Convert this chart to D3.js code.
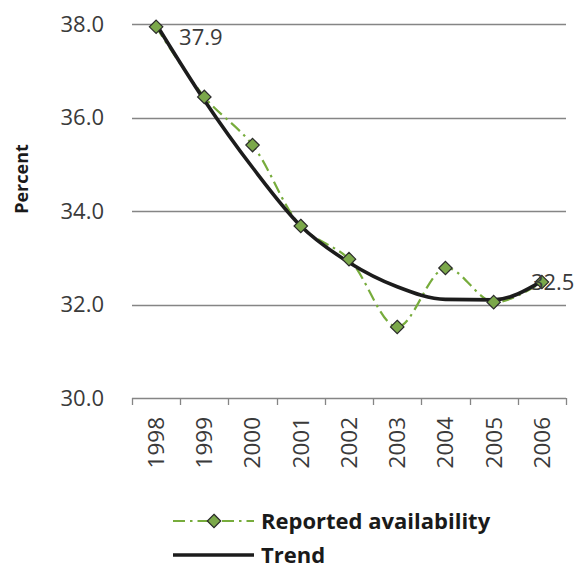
<!DOCTYPE html>
<html>
<head>
<meta charset="utf-8">
<script src="https://cdn.jsdelivr.net/npm/d3@7"></script>
<style>
  body { margin: 0; background: #fff; }
  svg text { font-family: "Open Sans", "Noto Sans", sans-serif; }
</style>
</head>
<body>
<svg id="chart" width="574" height="568"></svg>
<script>
// chart data
const years = ["1998", "1999", "2000", "2001", "2002", "2003", "2004", "2005", "2006"];
const reported = [37.94, 36.44, 35.41, 33.68, 32.97, 31.52, 32.78, 32.05, 32.48];
const trend = [38.0, 36.37, 34.93, 33.68, 32.9, 32.38, 32.11, 32.1, 32.5];
const yTicks = [30, 32, 34, 36, 38];
const pointLabels = [{ i: 0, text: "37.9" }, { i: 8, text: "32.5" }];

const svg = d3.select("#chart");

const x = d3.scaleBand()
    .domain(years)
    .range([132, 566]);

const y = d3.scaleLinear()
    .domain([30, 38])
    .range([398, 24]);

const cx = d => x(d) + x.bandwidth() / 2;

// gridlines
svg.append("g")
    .selectAll("line")
    .data(yTicks.filter(t => t > 30))
    .join("line")
    .attr("x1", 132)
    .attr("x2", 566)
    .attr("y1", d => Math.round(y(d)) + 0.5)
    .attr("y2", d => Math.round(y(d)) + 0.5)
    .attr("stroke", "#858585")
    .attr("stroke-width", 1.3);

// y tick labels
svg.append("g")
    .attr("fill", "#3a3a3a")
    .attr("font-size", 22)
    .attr("text-anchor", "end")
    .selectAll("text")
    .data(yTicks)
    .join("text")
    .attr("x", 104)
    .attr("y", d => y(d))
    .attr("dy", "0.35em")
    .text(d => d.toFixed(1));

// x axis
const xAxis = g => g
    .attr("transform", "translate(0," + (Math.round(y(30)) + 0.5) + ")")
    .call(d3.axisBottom(x).tickSize(0).tickFormat(""))
    .call(g => g.select(".domain").attr("stroke", "#858585").attr("stroke-width", 1.3)
        .attr("d", "M132,0H566"));

svg.append("g").call(xAxis);

// tick marks between categories
svg.append("g")
    .selectAll("line")
    .data(years.concat(["end"]))
    .join("line")
    .attr("x1", (d, i) => Math.round(i < years.length ? x(d) : x.range()[1]) + 0.5)
    .attr("x2", (d, i) => Math.round(i < years.length ? x(d) : x.range()[1]) + 0.5)
    .attr("y1", y(30))
    .attr("y2", y(30) + 7)
    .attr("stroke", "#858585")
    .attr("stroke-width", 1.3);

// rotated year labels
svg.append("g")
    .attr("fill", "#3a3a3a")
    .attr("font-size", 22.5)
    .attr("text-anchor", "end")
    .selectAll("text")
    .data(years)
    .join("text")
    .attr("transform", d => "translate(" + cx(d) + ",417) rotate(-90)")
    .attr("dy", "0.35em")
    .text(d => d);

// y axis title
svg.append("text")
    .attr("transform", "translate(22,179) rotate(-90)")
    .attr("text-anchor", "middle")
    .attr("dy", "0.35em")
    .attr("font-size", 18)
    .attr("font-weight", "bold")
    .attr("fill", "#1a1a1a")
    .text("Percent");

// reported availability line
const reportedLine = d3.line()
    .x((d, i) => cx(years[i]))
    .y(d => y(d))
    .curve(d3.curveCatmullRom.alpha(0.5));

svg.append("path")
    .datum(reported)
    .attr("d", reportedLine)
    .attr("fill", "none")
    .attr("stroke", "#77ac3c")
    .attr("stroke-width", 2.2)
    .attr("stroke-dasharray", "12,5,2.5,5");

// trend line
const trendLine = d3.line()
    .x((d, i) => cx(years[i]))
    .y(d => y(d))
    .curve(d3.curveMonotoneX);

svg.append("path")
    .datum(trend)
    .attr("d", trendLine)
    .attr("fill", "none")
    .attr("stroke", "#1c1c1c")
    .attr("stroke-width", 3.6)
    .attr("stroke-linejoin", "round");

// markers
const diamond = d3.symbol().type(d3.symbolDiamond2).size(115);

svg.append("g")
    .selectAll("path")
    .data(reported)
    .join("path")
    .attr("transform", (d, i) => "translate(" + cx(years[i]) + "," + y(d) + ")")
    .attr("d", diamond)
    .attr("fill", "#7ba84a")
    .attr("stroke", "#2a2a2a")
    .attr("stroke-width", 1.2);

// data labels
svg.append("g")
    .attr("fill", "#3a3a3a")
    .attr("font-size", 22)
    .selectAll("text")
    .data(pointLabels)
    .join("text")
    .attr("x", d => cx(years[d.i]) + (d.i === 0 ? 23 : -11))
    .attr("y", d => y(reported[d.i]) + (d.i === 0 ? 10 : 0))
    .attr("dy", "0.35em")
    .text(d => d.text);

// legend
const legend = svg.append("g");

legend.append("line")
    .attr("x1", 173).attr("x2", 254)
    .attr("y1", 521).attr("y2", 521)
    .attr("stroke", "#77ac3c")
    .attr("stroke-width", 2)
    .attr("stroke-dasharray", "12,5,2.5,5");

legend.append("path")
    .attr("transform", "translate(214,521)")
    .attr("d", diamond)
    .attr("fill", "#7ba84a")
    .attr("stroke", "#2a2a2a")
    .attr("stroke-width", 1.2);

legend.append("line")
    .attr("x1", 173).attr("x2", 254)
    .attr("y1", 555).attr("y2", 555)
    .attr("stroke", "#1c1c1c")
    .attr("stroke-width", 3.6);

legend.selectAll("text")
    .data(["Reported availability", "Trend"])
    .join("text")
    .attr("x", 261)
    .attr("y", (d, i) => 521 + i * 34)
    .attr("dy", "0.35em")
    .attr("font-size", 22)
    .attr("font-weight", "bold")
    .attr("fill", "#1a1a1a")
    .text(d => d);
</script>
</body>
</html>
